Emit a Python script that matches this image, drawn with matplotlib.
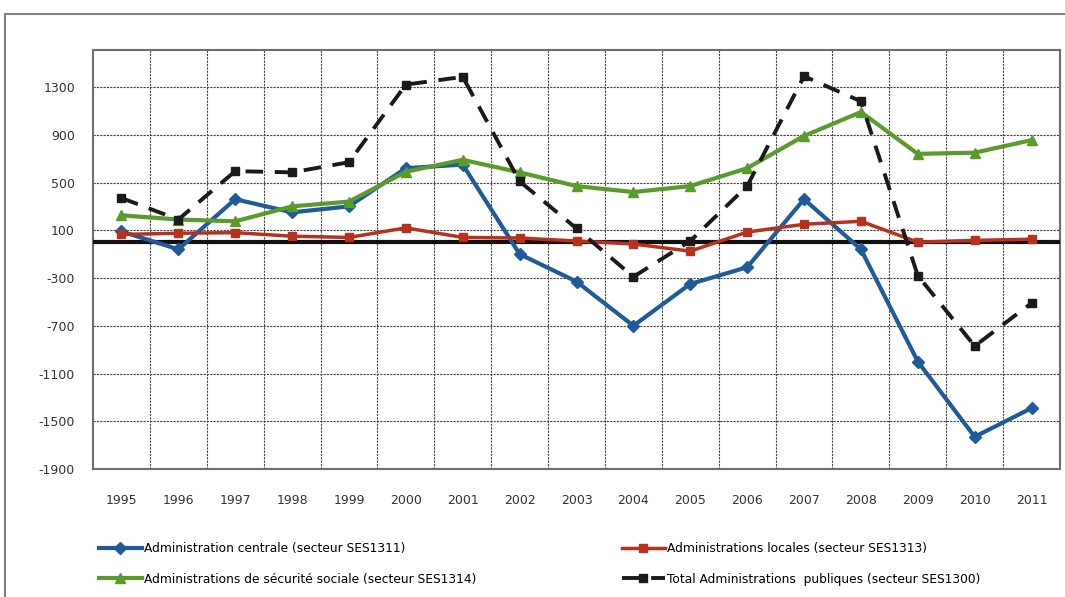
import numpy as np
import matplotlib
matplotlib.use("Agg")
import matplotlib.pyplot as plt
from matplotlib.patches import Rectangle

plt.rcParams['axes.unicode_minus'] = False

# data
years = ['1995', '1996', '1997', '1998', '1999', '2000', '2001', '2002', '2003',
         '2004', '2005', '2006', '2007', '2008', '2009', '2010', '2011']
centrale = [90, -60, 360, 250, 300, 620, 650, -100, -330, -700, -350, -210, 360, -60, -1000, -1630, -1390]
locales = [65, 75, 80, 50, 40, 120, 40, 35, 10, -15, -75, 85, 150, 175, 0, 15, 25]
secu = [225, 190, 175, 300, 340, 590, 690, 585, 470, 420, 470, 620, 890, 1090, 740, 750, 855]
total = [370, 190, 595, 585, 670, 1320, 1385, 510, 115, -290, 10, 470, 1390, 1180, -280, -870, -510]
labels = ['Administration centrale (secteur SES1311)',
          'Administrations locales (secteur SES1313)',
          'Administrations de sécurité sociale (secteur SES1314)',
          'Total Administrations  publiques (secteur SES1300)']
yticks = [-1900, -1500, -1100, -700, -300, 100, 500, 900, 1300]

x = np.arange(len(years))

fig = plt.figure(figsize=(10.65, 5.97), dpi=100)
fig.add_artist(Rectangle((5 / 1065, -0.1), 1.2, 1 - 14 / 597 + 0.1, transform=fig.transFigure,
                         fill=False, edgecolor='#808080', lw=1.5))
ax = fig.add_axes([93 / 1065, 1 - 469 / 597, 967 / 1065, 419 / 597])

l1, = ax.plot(x, centrale, color='#1f5b9a', lw=3, marker='D', ms=6, zorder=4)
l2, = ax.plot(x, locales, color='#b7321e', lw=2.5, marker='s', ms=6, zorder=4)
l3, = ax.plot(x, secu, color='#5b9a2c', lw=3, marker='^', ms=6.5, zorder=4)
l4, = ax.plot(x, total, color='#1a1a1a', lw=2.8, marker='s', ms=6, zorder=4,
              dashes=(4.5, 3))
ax.axhline(0, color='#111111', lw=3, zorder=3)

ax.set_xlim(-0.5, len(years) - 0.5)
ax.set_ylim(-1900, 1610)
ax.set_xticks(x)
ax.set_xticklabels(years)
ax.set_xticks(np.arange(0.5, len(years) - 1, 1), minor=True)
ax.set_yticks(yticks)
ax.tick_params(axis='both', length=0, labelsize=9, colors='#333333')
ax.tick_params(axis='x', which='major', pad=18)
ax.tick_params(axis='y', pad=13)
ax.tick_params(axis='x', which='minor', length=0)
ax.grid(axis='y', which='major', linestyle=(0, (2, 1)), color='#444444', lw=0.8)
ax.grid(axis='x', which='minor', linestyle=(0, (2, 1)), color='#444444', lw=0.8)
ax.grid(axis='x', which='major', visible=False)
for s in ax.spines.values():
    s.set_color('#6e6e6e')
    s.set_linewidth(1.5)

fig.legend([l1, l3, l2, l4], [labels[0], labels[2], labels[1], labels[3]],
           ncol=2, loc='upper left', bbox_to_anchor=(88 / 1065, 1 - 531 / 597),
           frameon=False, handlelength=3.5, handletextpad=0.2, labelspacing=1.45,
           columnspacing=11.9, prop={'size': 8.8})

fig.savefig('out.png', dpi=100)
